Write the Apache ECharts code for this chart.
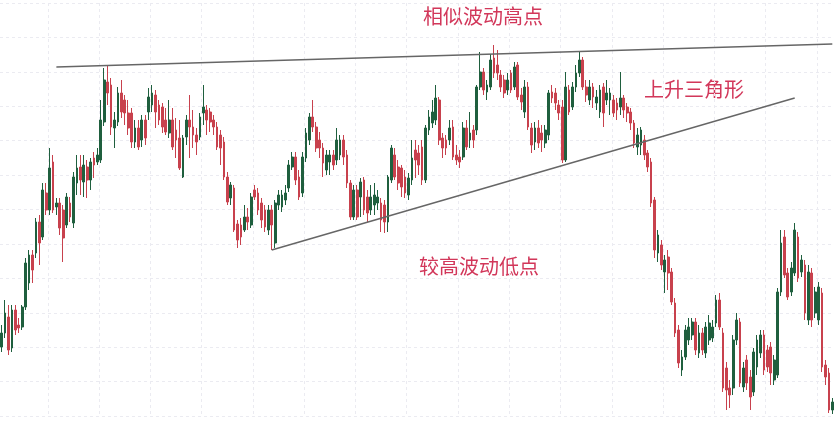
<!DOCTYPE html>
<html lang="zh-CN">
<head>
<meta charset="UTF-8">
<title>上升三角形</title>
<script src="https://cdn.jsdelivr.net/npm/echarts@6/dist/echarts.min.js"></script>
<style>
  html, body { margin: 0; padding: 0; background: #fff; }
  #main { width: 834px; height: 426px; }
</style>
</head>
<body>
<div id="main"></div>
<script>
// OHLC, one entry per bar
var openData = [
  69,83,99,68,106,91,89,109,133,161,
  163,194,179,223,206,254,209,213,206,191,
  213,193,233,249,234,249,236,258,254,256,
  294,334,331,288,294,323,316,303,303,274,
  288,276,296,304,311,321,311,309,296,283,
  296,286,278,239,279,296,289,281,279,303,
  306,304,296,289,281,274,239,218,228,192,
  191,186,199,191,226,223,213,206,186,206,
  173,211,209,216,228,249,259,239,223,258,
  276,299,289,276,268,246,254,261,256,261,
  276,261,233,199,226,219,236,219,206,211,
  213,213,211,194,236,261,249,248,239,221,
  236,266,263,269,236,286,293,296,316,278,
  276,276,289,261,259,259,288,276,286,286,
  329,344,324,329,358,351,341,336,326,343,
  329,351,321,304,329,288,274,288,283,273,
  281,324,323,311,309,256,326,309,329,343,
  356,329,316,329,313,304,329,316,316,316,
  313,309,318,309,304,293,269,271,276,263,
  254,216,163,171,144,159,144,113,86,46,
  59,76,81,94,63,83,63,76,78,93,
  116,83,48,28,28,76,94,29,56,39,
  24,49,63,81,66,69,36,41,124,179,
  143,124,143,179,144,151,96,143,103,96,
  123,51,43,6
];
var closeData = [
  83,103,66,106,86,88,109,153,161,146,
  194,173,226,206,248,206,213,188,178,219,
  199,239,248,236,251,236,254,251,261,296,
  336,323,289,296,323,304,303,288,274,288,
  269,296,278,319,323,304,296,289,284,296,
  269,276,248,278,296,289,281,274,299,309,
  296,294,289,269,268,239,214,231,186,176,
  179,199,194,219,219,206,196,189,206,191,
  213,221,221,223,251,259,236,219,259,283,
  299,289,268,268,253,261,261,251,276,276,
  259,233,199,226,199,234,206,203,219,221,
  219,196,194,239,268,239,233,229,223,238,
  258,256,251,236,288,299,304,318,276,268,
  268,288,259,256,254,288,269,283,276,329,
  344,326,331,356,343,343,329,323,336,326,
  349,319,314,329,289,271,288,273,276,286,
  323,318,313,303,256,329,304,329,343,356,
  329,321,329,319,319,326,303,323,323,303,
  306,318,306,303,293,273,281,286,261,249,
  213,166,181,151,156,143,114,83,53,59,
  86,89,94,66,83,66,89,93,89,116,
  89,28,26,21,76,96,33,48,33,19,
  64,76,81,46,49,43,56,124,173,141,
  119,148,186,138,156,103,144,96,124,129,
  49,39,6,14
];
var lowData = [
  64,78,61,64,81,83,86,106,126,133,
  158,151,176,201,201,203,201,181,154,188,
  194,188,221,221,219,218,226,238,251,253,
  290,311,281,268,290,298,291,281,268,268,
  266,269,271,296,304,288,291,283,281,278,
  266,258,246,238,271,258,268,261,276,291,
  281,284,281,266,251,236,211,211,184,168,
  171,184,186,188,216,201,188,184,181,166,
  168,206,204,211,224,246,231,216,219,254,
  271,284,264,258,239,241,241,246,251,256,
  251,228,196,196,196,199,201,194,201,201,
  206,184,183,184,233,236,226,219,218,216,
  231,238,241,231,233,281,288,291,271,258,
  261,271,256,251,248,256,266,268,268,281,
  326,321,316,326,338,336,324,318,321,323,
  326,316,306,298,286,263,266,268,264,268,
  276,313,306,296,253,254,301,306,324,339,
  326,314,311,308,306,298,289,311,301,299,
  296,301,298,294,286,268,261,261,256,244,
  209,158,154,146,123,126,111,79,48,40,
  56,71,76,61,58,61,58,71,74,89,
  86,24,6,8,21,71,29,24,26,6,
  20,41,58,41,44,31,31,38,120,138,
  116,120,140,134,139,96,91,89,98,91,
  44,31,3,2
];
var highData = [
  91,116,111,111,111,98,111,158,166,166,
  198,201,233,233,268,261,218,218,211,223,
  219,244,261,261,261,256,258,264,268,316,
  348,351,338,304,329,336,321,316,308,296,
  296,301,301,328,331,326,316,313,308,316,
  308,298,296,281,301,321,306,288,303,331,
  311,308,301,294,286,279,244,234,231,196,
  198,211,208,223,231,228,218,211,211,211,
  216,226,226,231,256,264,264,246,264,288,
  303,316,294,284,273,266,266,266,288,281,
  281,266,236,231,231,238,239,226,231,233,
  226,218,216,241,271,268,256,251,246,243,
  276,276,271,276,291,306,316,331,319,283,
  281,296,296,271,266,294,296,304,291,331,
  364,348,336,362,371,366,346,341,343,346,
  354,354,328,336,334,293,294,296,291,291,
  326,331,328,316,316,344,331,334,351,364,
  359,336,336,333,326,331,333,336,328,321,
  318,344,321,313,308,296,288,289,281,266,
  258,219,186,176,161,166,148,118,91,66,
  91,98,98,98,91,88,94,101,96,121,
  123,88,54,36,81,103,98,54,61,46,
  68,81,86,86,71,74,61,128,186,186,
  148,154,193,184,161,156,151,148,129,134,
  128,56,48,18
];

// trend lines: [bar index, price]
var resistanceLine = [[16, 349], [243, 372]];
var supportLine = [[79, 166], [232, 318]];

var bars = openData.map(function (v, i) { return String(i + 1); });
var candles = openData.map(function (v, i) {
  return [openData[i], closeData[i], lowData[i], highData[i]];
});

var myChart = echarts.init(document.getElementById('main'));

var labelFont = '"Noto Sans CJK SC", sans-serif';
var labelColor = '#d2375a';

myChart.setOption({
  animation: false,
  backgroundColor: '#fff',
  grid: { left: 0, right: 0, top: 3, bottom: 10 },
  xAxis: {
    type: 'category',
    data: bars,
    boundaryGap: true,
    axisLine: { show: false },
    axisTick: { show: false },
    axisLabel: { show: false },
    splitLine: {
      show: true,
      interval: function (index) { return index % 15 === 14; },
      lineStyle: { color: '#ebebf1', type: [3, 3], width: 1 }
    }
  },
  yAxis: {
    type: 'value',
    min: 0,
    max: 413,
    interval: 413 / 12,
    axisLine: { show: false },
    axisTick: { show: false },
    axisLabel: { show: false },
    splitLine: {
      show: true,
      lineStyle: { color: '#ebebf1', type: [3, 3], width: 1 }
    }
  },
  series: [
    {
      type: 'candlestick',
      data: candles,
      barWidth: '65%',
      itemStyle: {
        color: '#1f5f3e',
        color0: '#c8414d',
        borderColor: '#1f5f3e',
        borderColor0: '#c8414d',
        borderWidth: 1
      }
    },
    {
      type: 'line',
      data: resistanceLine,
      symbol: 'none',
      silent: true,
      lineStyle: { color: '#666666', width: 1.5 }
    },
    {
      type: 'line',
      data: supportLine,
      symbol: 'none',
      silent: true,
      lineStyle: { color: '#666666', width: 1.5 }
    }
  ],
  graphic: [
    {
      type: 'text', x: 483, y: 16,
      style: { text: '相似波动高点', fill: labelColor, fontSize: 20, fontFamily: labelFont, align: 'center', verticalAlign: 'middle' }
    },
    {
      type: 'text', x: 694, y: 89,
      style: { text: '上升三角形', fill: labelColor, fontSize: 20, fontFamily: labelFont, align: 'center', verticalAlign: 'middle' }
    },
    {
      type: 'text', x: 479, y: 266,
      style: { text: '较高波动低点', fill: labelColor, fontSize: 20, fontFamily: labelFont, align: 'center', verticalAlign: 'middle' }
    }
  ]
});
</script>
</body>
</html>
